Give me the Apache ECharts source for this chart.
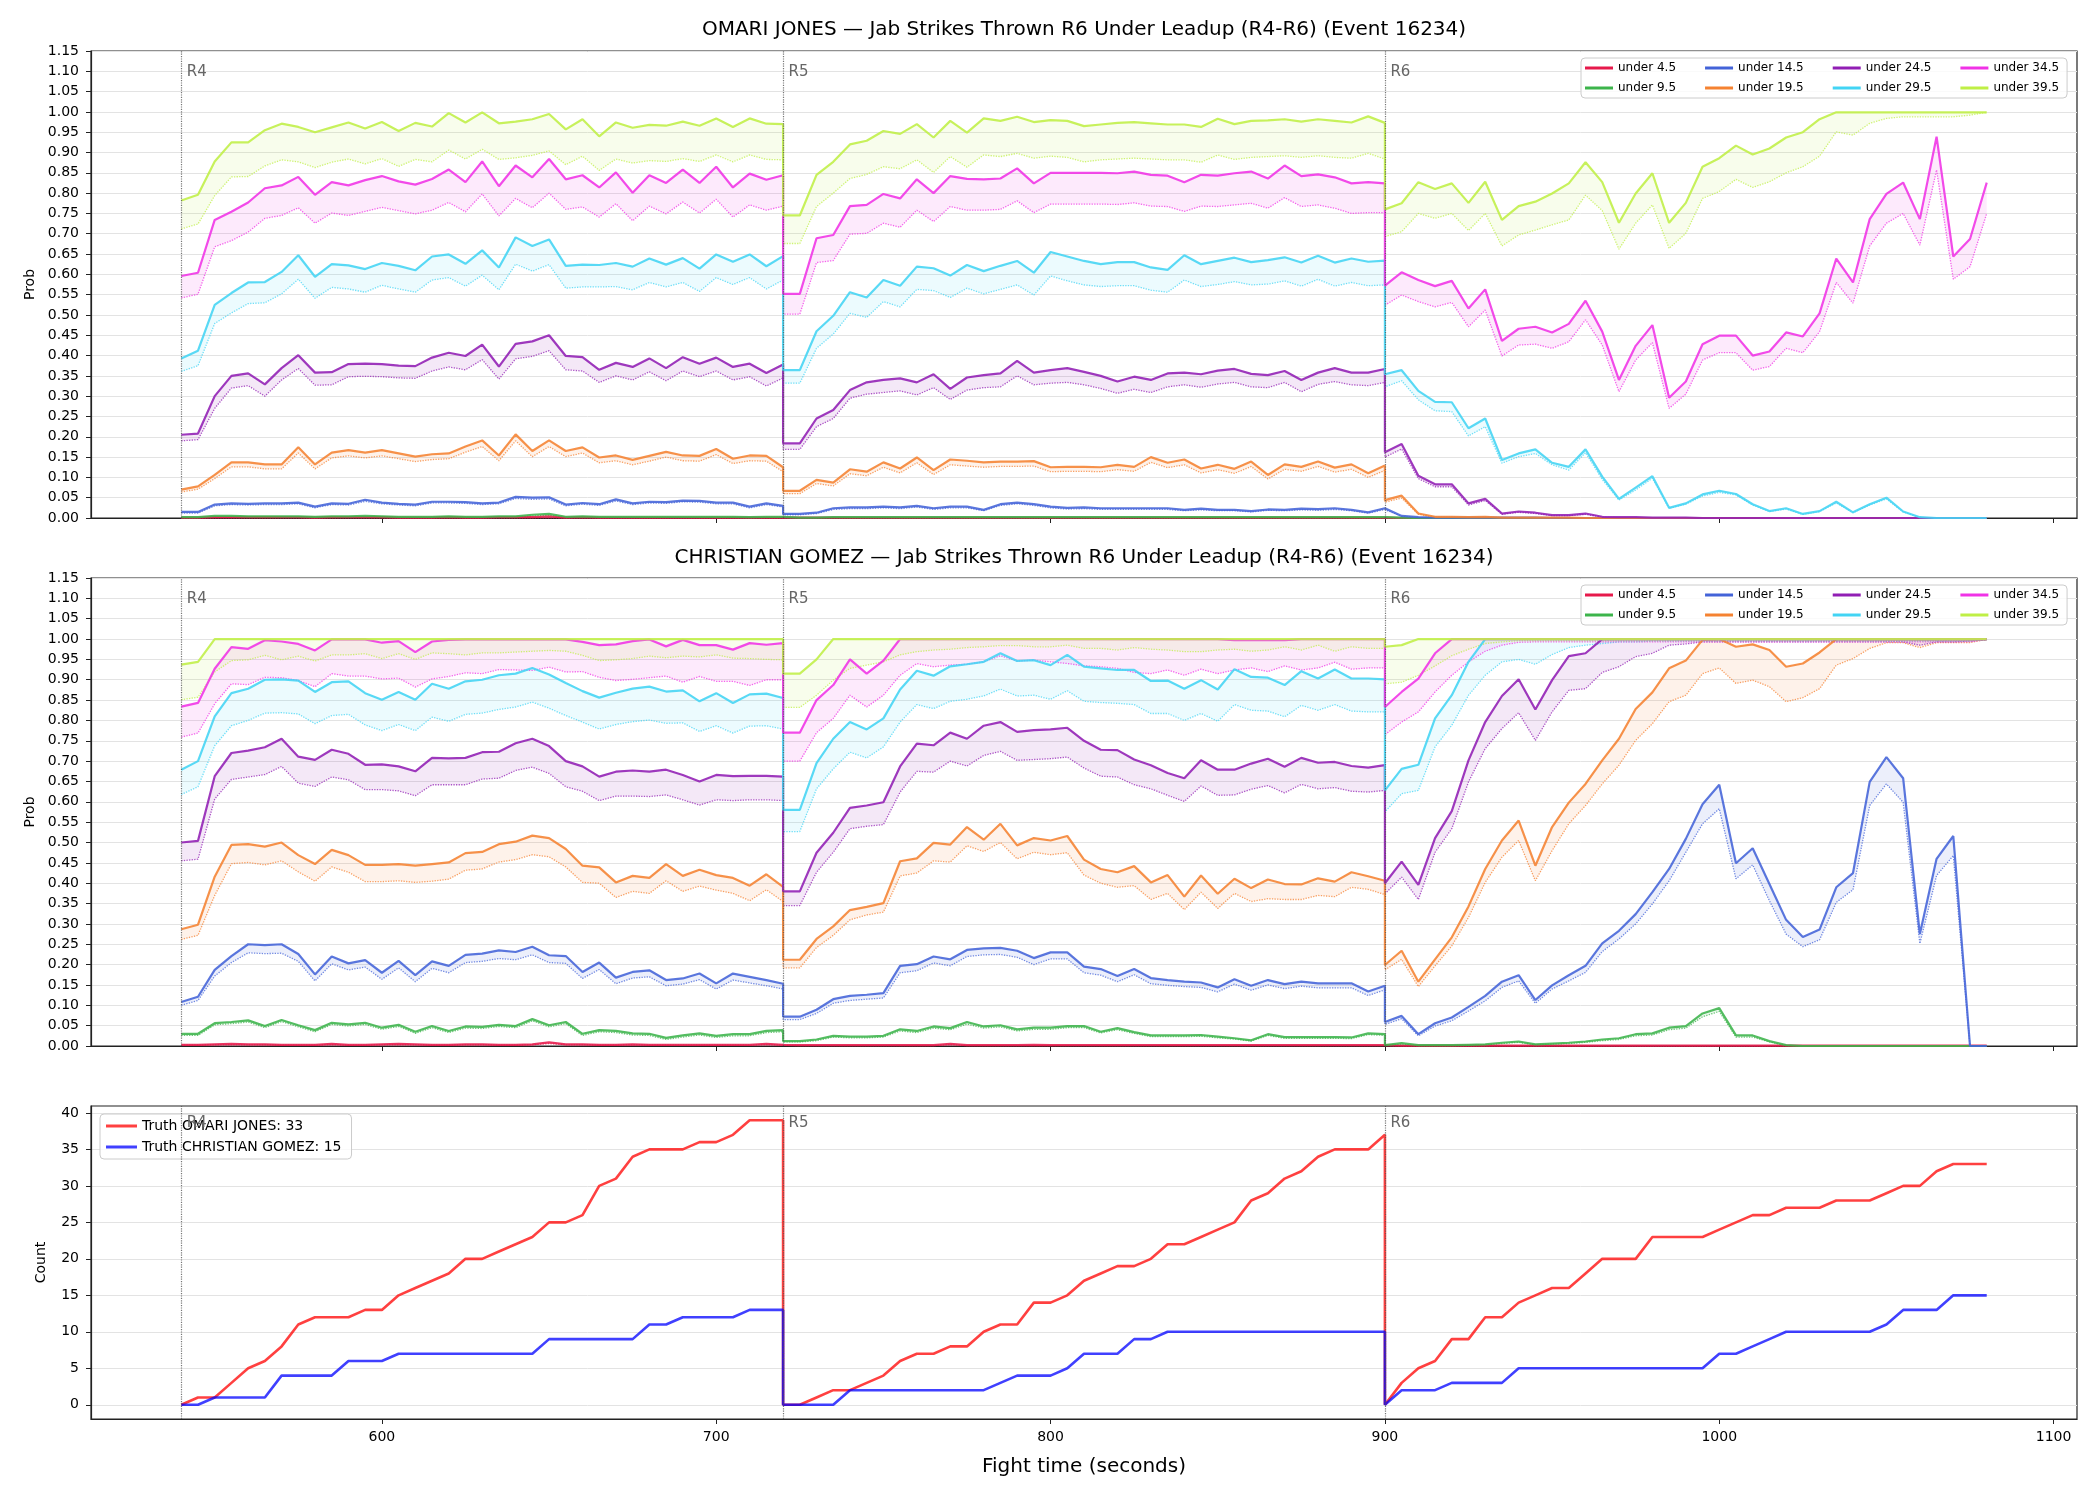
<!DOCTYPE html>
<html>
<head>
<meta charset="utf-8">
<title>Jab Strikes Thrown R6 Under Leadup</title>
<script src="https://cdn.jsdelivr.net/npm/echarts@6.0.0/dist/echarts.min.js"></script>
<style>
  html, body { margin: 0; padding: 0; background: #ffffff; }
  #main { width: 2100px; height: 1500px; }
</style>
</head>
<body>
<div id="main"></div>
<script>
// each round sampled every 5 s, 37 samples per round (R4, R5, R6)
const roundStarts = [540, 720, 900];
const roundNames = ['R4', 'R5', 'R6'];
const times = [];
roundStarts.forEach(function (s) { for (let i = 0; i <= 36; i++) times.push(s + i * 5); });

const xTicks = [600, 700, 800, 900, 1000, 1100];
const countTicks = [0, 5, 10, 15, 20, 25, 30, 35, 40];
const thresholds = ['4.5', '9.5', '14.5', '19.5', '24.5', '29.5', '34.5', '39.5'];
const lineColors = ['#e6194b', '#3cb44b', '#4363d8', '#f58231', '#911eb4', '#42d4f4', '#f032e6', '#bfef45'];

// ---------------- OMARI JONES (solid = prob, lo = dotted lower line) ----------------
const om4 = [
  0.001,0.001,0.002,0.002,0.002,0.002,0.002,0.002,0.001,0.002,
  0.002,0.002,0.002,0.001,0.001,0.001,0.002,0.001,0.001,0.002,
  0.002,0.002,0.004,0.001,0.002,0.001,0.001,0.001,0.001,0.001,
  0.001,0.001,0.001,0.001,0.001,0.001,0.001,
  0.001,0.001,0.001,0.001,0.001,0.001,0.001,0.001,0.001,0.001,
  0.001,0.001,0.001,0.001,0.001,0.001,0.001,0.001,0.001,0.001,
  0.001,0.001,0.001,0.001,0.001,0.001,0.001,0.001,0.001,0.001,
  0.001,0.001,0.001,0.001,0.001,0.001,0.001,
  0,0,0,0,0,0,0,0,0,0, 0,0,0,0,0,0,0,0,0,0, 0,0,0,0,0,0,0,0,0,0, 0,0,0,0,0,0,0
];
const om4lo = [
  0,0,0,0,0,0,0,0,0,0, 0,0,0,0,0,0,0,0,0,0, 0,0,0,0,0,0,0,0,0,0, 0,0,0,0,0,0,0,
  0,0,0,0,0,0,0,0,0,0, 0,0,0,0,0,0,0,0,0,0, 0,0,0,0,0,0,0,0,0,0, 0,0,0,0,0,0,0,
  0,0,0,0,0,0,0,0,0,0, 0,0,0,0,0,0,0,0,0,0, 0,0,0,0,0,0,0,0,0,0, 0,0,0,0,0,0,0
];
const om9 = [
  0.002,0.002,0.005,0.005,0.004,0.004,0.004,0.004,0.003,0.004,
  0.004,0.005,0.004,0.003,0.003,0.003,0.004,0.003,0.003,0.004,
  0.004,0.008,0.010,0.003,0.004,0.003,0.003,0.003,0.003,0.003,
  0.003,0.003,0.003,0.003,0.002,0.003,0.003,
  0.001,0.001,0.001,0.002,0.002,0.002,0.002,0.002,0.002,0.002,
  0.002,0.002,0.002,0.002,0.002,0.002,0.002,0.002,0.002,0.002,
  0.002,0.002,0.002,0.002,0.002,0.002,0.002,0.002,0.002,0.002,
  0.002,0.002,0.002,0.002,0.002,0.002,0.002,
  0.001,0.001,0,0,0,0,0,0,0,0, 0,0,0,0,0,0,0,0,0,0, 0,0,0,0,0,0,0,0,0,0, 0,0,0,0,0,0,0
];
const om9lo = [
  0.001,0.001,0.003,0.003,0.003,0.003,0.003,0.003,0.002,0.003,
  0.003,0.003,0.003,0.002,0.002,0.002,0.003,0.002,0.002,0.003,
  0.003,0.005,0.007,0.002,0.003,0.002,0.002,0.002,0.002,0.002,
  0.002,0.002,0.002,0.002,0.001,0.002,0.002,
  0.001,0.001,0.001,0.001,0.001,0.001,0.001,0.001,0.001,0.001,
  0.001,0.001,0.001,0.001,0.001,0.001,0.001,0.001,0.001,0.001,
  0.001,0.001,0.001,0.001,0.001,0.001,0.001,0.001,0.001,0.001,
  0.001,0.001,0.001,0.001,0.001,0.001,0.001,
  0,0,0,0,0,0,0,0,0,0, 0,0,0,0,0,0,0,0,0,0, 0,0,0,0,0,0,0,0,0,0, 0,0,0,0,0,0,0
];
const om14 = [
  0.015,0.015,0.033,0.036,0.035,0.036,0.036,0.038,0.028,0.036,
  0.035,0.045,0.038,0.035,0.033,0.040,0.040,0.039,0.036,0.038,
  0.052,0.050,0.051,0.033,0.037,0.034,0.046,0.036,0.040,0.039,
  0.043,0.042,0.038,0.038,0.028,0.036,0.030,
  0.010,0.010,0.013,0.024,0.026,0.026,0.028,0.026,0.030,0.024,
  0.028,0.028,0.020,0.034,0.038,0.034,0.028,0.025,0.026,0.024,
  0.024,0.024,0.024,0.024,0.020,0.023,0.020,0.020,0.017,0.021,
  0.020,0.023,0.022,0.024,0.020,0.014,0.024,
  0.020,0.005,0.002,0.001,0.001,0.001,0.001,0.001,0.001,0.001,
  0,0,0,0,0,0,0,0,0,0, 0,0,0,0,0,0,0,0,0,0, 0,0,0,0,0,0,0
];
const om14lo = [
  0.012,0.012,0.030,0.033,0.032,0.033,0.033,0.035,0.025,0.033,
  0.032,0.041,0.035,0.032,0.030,0.037,0.037,0.036,0.033,0.035,
  0.048,0.046,0.047,0.030,0.034,0.031,0.042,0.033,0.037,0.036,
  0.040,0.039,0.035,0.035,0.025,0.033,0.027,
  0.008,0.008,0.011,0.021,0.023,0.023,0.025,0.023,0.027,0.021,
  0.025,0.025,0.018,0.031,0.035,0.031,0.025,0.022,0.023,0.021,
  0.021,0.021,0.021,0.021,0.018,0.020,0.018,0.018,0.015,0.019,
  0.018,0.020,0.019,0.021,0.018,0.012,0.021,
  0.017,0.004,0.001,0,0,0,0,0,0,0, 0,0,0,0,0,0,0,0,0,0, 0,0,0,0,0,0,0,0,0,0, 0,0,0,0,0,0,0
];
const om19 = [
  0.070,0.078,0.106,0.137,0.137,0.132,0.132,0.174,0.132,0.161,
  0.167,0.161,0.167,0.159,0.151,0.157,0.159,0.176,0.191,0.154,
  0.206,0.165,0.191,0.165,0.174,0.149,0.154,0.143,0.153,0.163,
  0.154,0.153,0.170,0.146,0.154,0.153,0.125,
  0.067,0.067,0.094,0.087,0.120,0.114,0.137,0.122,0.149,0.118,
  0.144,0.141,0.137,0.139,0.139,0.140,0.125,0.126,0.126,0.125,
  0.131,0.126,0.150,0.136,0.144,0.122,0.131,0.121,0.139,0.106,
  0.132,0.126,0.139,0.124,0.132,0.110,0.129,
  0.044,0.055,0.011,0.003,0.003,0.002,0.003,0.001,0.001,0.001,
  0.001,0.001,0,0,0,0,0,0,0,0, 0,0,0,0,0,0,0,0,0,0, 0,0,0,0,0,0,0
];
const om19lo = [
  0.064,0.071,0.097,0.126,0.126,0.121,0.121,0.160,0.121,0.148,
  0.153,0.148,0.153,0.146,0.139,0.144,0.146,0.162,0.176,0.141,
  0.190,0.151,0.176,0.151,0.160,0.136,0.141,0.131,0.140,0.150,
  0.141,0.140,0.156,0.134,0.141,0.140,0.114,
  0.060,0.060,0.085,0.079,0.109,0.104,0.125,0.111,0.136,0.107,
  0.131,0.128,0.125,0.127,0.127,0.128,0.114,0.115,0.115,0.114,
  0.119,0.115,0.137,0.124,0.131,0.111,0.119,0.110,0.127,0.096,
  0.120,0.115,0.127,0.113,0.120,0.100,0.117,
  0.039,0.049,0.009,0.002,0.002,0.001,0.002,0.001,0,0,
  0,0,0,0,0,0,0,0,0,0, 0,0,0,0,0,0,0,0,0,0, 0,0,0,0,0,0,0
];
const om24 = [
  0.205,0.208,0.300,0.350,0.356,0.329,0.369,0.401,0.358,0.359,
  0.379,0.380,0.379,0.375,0.374,0.395,0.407,0.399,0.427,0.373,
  0.429,0.435,0.450,0.399,0.396,0.365,0.382,0.372,0.393,0.369,
  0.396,0.380,0.395,0.372,0.380,0.357,0.378,
  0.184,0.184,0.245,0.266,0.315,0.334,0.340,0.344,0.334,0.354,
  0.318,0.346,0.352,0.356,0.387,0.358,0.364,0.369,0.360,0.350,
  0.336,0.348,0.340,0.356,0.358,0.354,0.363,0.367,0.355,0.352,
  0.362,0.340,0.358,0.369,0.358,0.358,0.367,
  0.162,0.182,0.104,0.083,0.083,0.036,0.047,0.011,0.016,0.013,
  0.007,0.007,0.011,0.003,0.002,0.002,0.001,0.001,0.001,0,
  0,0,0,0,0,0,0,0,0,0, 0,0,0,0,0,0,0
];
const om24lo = [
  0.190,0.193,0.270,0.320,0.326,0.300,0.340,0.368,0.327,0.328,
  0.348,0.349,0.348,0.345,0.344,0.362,0.372,0.365,0.390,0.342,
  0.392,0.398,0.412,0.365,0.362,0.334,0.350,0.340,0.360,0.338,
  0.362,0.348,0.362,0.340,0.348,0.325,0.345,
  0.169,0.169,0.225,0.245,0.295,0.305,0.309,0.313,0.303,0.321,
  0.292,0.315,0.321,0.323,0.350,0.328,0.332,0.334,0.328,0.319,
  0.307,0.317,0.309,0.323,0.328,0.322,0.330,0.334,0.323,0.321,
  0.334,0.311,0.329,0.336,0.328,0.326,0.334,
  0.150,0.170,0.097,0.077,0.077,0.032,0.043,0.009,0.014,0.011,
  0.006,0.006,0.009,0.002,0.001,0.001,0,0,0,0,
  0,0,0,0,0,0,0,0,0,0, 0,0,0,0,0,0,0
];
const om29 = [
  0.393,0.412,0.525,0.554,0.580,0.581,0.606,0.647,0.594,0.625,
  0.622,0.613,0.628,0.621,0.610,0.644,0.649,0.626,0.659,0.617,
  0.691,0.670,0.686,0.621,0.624,0.623,0.628,0.619,0.639,0.624,
  0.640,0.614,0.649,0.631,0.649,0.620,0.645,
  0.364,0.364,0.460,0.498,0.556,0.543,0.586,0.572,0.619,0.615,
  0.597,0.623,0.608,0.621,0.633,0.604,0.655,0.644,0.633,0.625,
  0.630,0.630,0.617,0.611,0.647,0.625,0.633,0.641,0.630,0.635,
  0.642,0.629,0.646,0.629,0.639,0.631,0.634,
  0.354,0.364,0.313,0.286,0.285,0.221,0.245,0.143,0.159,0.169,
  0.136,0.126,0.169,0.102,0.047,0.075,0.103,0.025,0.036,0.058,
  0.067,0.059,0.034,0.017,0.024,0.010,0.017,0.040,0.014,0.034,
  0.050,0.016,0.002,0,0,0,0
];
const om29lo = [
  0.361,0.375,0.479,0.505,0.528,0.530,0.552,0.588,0.541,0.568,
  0.564,0.556,0.573,0.564,0.556,0.586,0.592,0.571,0.598,0.562,
  0.625,0.608,0.624,0.566,0.569,0.569,0.570,0.562,0.580,0.569,
  0.580,0.558,0.592,0.575,0.592,0.564,0.586,
  0.332,0.332,0.418,0.453,0.504,0.494,0.533,0.520,0.563,0.560,
  0.543,0.566,0.552,0.563,0.574,0.549,0.596,0.584,0.574,0.570,
  0.572,0.572,0.561,0.556,0.586,0.570,0.575,0.582,0.574,0.576,
  0.584,0.571,0.588,0.571,0.580,0.572,0.574,
  0.323,0.338,0.291,0.264,0.262,0.202,0.225,0.135,0.151,0.159,
  0.131,0.118,0.161,0.095,0.044,0.069,0.098,0.024,0.034,0.054,
  0.063,0.057,0.032,0.016,0.022,0.009,0.016,0.037,0.013,0.032,
  0.047,0.015,0.001,0,0,0,0
];
const om34 = [
  0.596,0.604,0.734,0.754,0.777,0.812,0.819,0.840,0.796,0.827,
  0.819,0.832,0.842,0.829,0.821,0.835,0.858,0.827,0.878,0.817,
  0.868,0.839,0.884,0.834,0.844,0.814,0.851,0.801,0.844,0.825,
  0.858,0.825,0.865,0.814,0.848,0.833,0.844,
  0.552,0.552,0.689,0.697,0.768,0.771,0.798,0.787,0.834,0.800,
  0.842,0.835,0.834,0.836,0.861,0.824,0.850,0.850,0.850,0.850,
  0.849,0.853,0.845,0.843,0.827,0.845,0.843,0.849,0.853,0.836,
  0.868,0.842,0.846,0.839,0.824,0.827,0.824,
  0.572,0.605,0.586,0.571,0.584,0.516,0.563,0.436,0.466,0.471,
  0.457,0.478,0.535,0.459,0.340,0.424,0.475,0.296,0.336,0.428,
  0.449,0.449,0.400,0.410,0.457,0.447,0.504,0.639,0.580,0.736,
  0.798,0.826,0.736,0.939,0.644,0.687,0.826
];
const om34lo = [
  0.542,0.551,0.668,0.683,0.704,0.738,0.745,0.764,0.726,0.751,
  0.745,0.755,0.765,0.757,0.749,0.758,0.777,0.754,0.798,0.744,
  0.787,0.764,0.800,0.760,0.766,0.741,0.774,0.732,0.768,0.749,
  0.778,0.751,0.785,0.741,0.771,0.758,0.768,
  0.502,0.502,0.629,0.634,0.699,0.701,0.726,0.716,0.758,0.730,
  0.767,0.758,0.758,0.760,0.781,0.752,0.773,0.773,0.773,0.773,
  0.772,0.776,0.768,0.767,0.755,0.768,0.767,0.771,0.775,0.763,
  0.789,0.767,0.771,0.763,0.750,0.752,0.752,
  0.524,0.549,0.533,0.520,0.531,0.471,0.512,0.399,0.426,0.428,
  0.418,0.434,0.488,0.426,0.311,0.389,0.432,0.270,0.305,0.389,
  0.407,0.407,0.364,0.373,0.418,0.407,0.459,0.580,0.529,0.670,
  0.726,0.750,0.672,0.857,0.588,0.619,0.750
];
const om39 = [
  0.782,0.796,0.878,0.925,0.925,0.955,0.971,0.963,0.950,0.962,
  0.974,0.959,0.975,0.953,0.973,0.964,0.997,0.974,0.999,0.972,
  0.976,0.982,0.995,0.957,0.982,0.940,0.974,0.961,0.968,0.966,
  0.976,0.966,0.984,0.963,0.984,0.971,0.970,
  0.745,0.745,0.845,0.877,0.920,0.929,0.953,0.946,0.970,0.937,
  0.978,0.949,0.984,0.978,0.988,0.975,0.980,0.978,0.965,0.969,
  0.973,0.975,0.972,0.969,0.969,0.963,0.983,0.970,0.978,0.979,
  0.982,0.976,0.982,0.978,0.974,0.989,0.973,
  0.760,0.775,0.827,0.810,0.824,0.776,0.828,0.734,0.768,0.779,
  0.799,0.824,0.876,0.827,0.727,0.799,0.849,0.727,0.776,0.865,
  0.886,0.917,0.895,0.910,0.937,0.950,0.982,0.999,0.999,0.999,
  0.999,0.999,0.999,0.999,0.999,0.999,0.999
];
const om39lo = [
  0.712,0.724,0.794,0.840,0.841,0.867,0.882,0.877,0.863,0.876,
  0.884,0.872,0.885,0.866,0.883,0.877,0.906,0.884,0.908,0.883,
  0.887,0.893,0.904,0.870,0.891,0.856,0.884,0.874,0.880,0.878,
  0.885,0.878,0.894,0.877,0.894,0.883,0.882,
  0.676,0.676,0.767,0.800,0.836,0.846,0.865,0.860,0.882,0.851,
  0.890,0.864,0.894,0.890,0.898,0.886,0.891,0.888,0.877,0.882,
  0.884,0.886,0.884,0.882,0.882,0.876,0.894,0.883,0.888,0.890,
  0.892,0.888,0.892,0.888,0.886,0.898,0.884,
  0.693,0.705,0.750,0.738,0.750,0.708,0.750,0.670,0.697,0.709,
  0.722,0.734,0.795,0.757,0.662,0.726,0.771,0.664,0.701,0.787,
  0.804,0.834,0.814,0.828,0.850,0.865,0.891,0.951,0.943,0.972,
  0.984,0.988,0.988,0.988,0.988,0.992,0.999
];

// ---------------- CHRISTIAN GOMEZ ----------------
const cg4 = [
  0.003,0.003,0.004,0.005,0.004,0.004,0.003,0.003,0.003,0.005,
  0.003,0.003,0.004,0.005,0.004,0.003,0.003,0.004,0.004,0.003,
  0.003,0.004,0.009,0.004,0.004,0.003,0.003,0.004,0.003,0.003,
  0.003,0.003,0.003,0.003,0.003,0.005,0.003,
  0.002,0.002,0.002,0.002,0.002,0.002,0.002,0.002,0.002,0.002,
  0.005,0.002,0.002,0.002,0.002,0.003,0.002,0.002,0.002,0.002,
  0.002,0.002,0.002,0.002,0.002,0.002,0.002,0.002,0.002,0.002,
  0.002,0.002,0.002,0.002,0.002,0.002,0.002,
  0.001,0.001,0.001,0.001,0.001,0.001,0.001,0.001,0.001,0.001,
  0.001,0.001,0.001,0.001,0.001,0.001,0.001,0.001,0.001,0.001,
  0.001,0.001,0.001,0.001,0.001,0.001,0.001,0.001,0.001,0.001,
  0.001,0.001,0.001,0.001,0.001,0.001,0.001
];
const cg4lo = [
  0.002,0.002,0.003,0.003,0.003,0.003,0.002,0.002,0.002,0.003,
  0.002,0.002,0.003,0.003,0.003,0.002,0.002,0.003,0.003,0.002,
  0.002,0.003,0.006,0.003,0.003,0.002,0.002,0.003,0.002,0.002,
  0.002,0.002,0.002,0.002,0.002,0.003,0.002,
  0.001,0.001,0.001,0.001,0.001,0.001,0.001,0.001,0.001,0.001,
  0.003,0.001,0.001,0.001,0.001,0.001,0.001,0.001,0.001,0.001,
  0.001,0.001,0.001,0.001,0.001,0.001,0.001,0.001,0.001,0.001,
  0.001,0.001,0.001,0.001,0.001,0.001,0.001,
  0,0,0,0,0,0,0,0,0,0, 0,0,0,0,0,0,0,0,0,0, 0,0,0,0,0,0,0,0,0,0, 0,0,0,0,0,0,0
];
const cg9 = [
  0.030,0.030,0.056,0.059,0.063,0.049,0.064,0.051,0.039,0.057,
  0.053,0.057,0.045,0.052,0.035,0.049,0.037,0.048,0.047,0.052,
  0.049,0.066,0.051,0.059,0.030,0.039,0.037,0.031,0.030,0.020,
  0.026,0.031,0.025,0.029,0.029,0.037,0.039,
  0.012,0.012,0.016,0.025,0.023,0.023,0.025,0.041,0.037,0.048,
  0.044,0.059,0.048,0.051,0.041,0.045,0.045,0.049,0.049,0.035,
  0.044,0.034,0.026,0.026,0.026,0.027,0.023,0.019,0.014,0.029,
  0.022,0.022,0.022,0.022,0.021,0.031,0.029,
  0.002,0.007,0.002,0.002,0.002,0.003,0.004,0.008,0.011,0.004,
  0.006,0.008,0.011,0.016,0.019,0.029,0.031,0.045,0.049,0.080,
  0.093,0.026,0.026,0.012,0.002,0,0,0,0,0,
  0,0,0,0,0,0,0
];
const cg9lo = [
  0.026,0.026,0.052,0.055,0.059,0.045,0.060,0.047,0.035,0.053,
  0.049,0.053,0.041,0.048,0.031,0.045,0.033,0.044,0.043,0.048,
  0.045,0.062,0.047,0.055,0.026,0.035,0.033,0.027,0.026,0.016,
  0.022,0.027,0.021,0.025,0.025,0.033,0.035,
  0.010,0.010,0.013,0.022,0.020,0.020,0.022,0.037,0.033,0.044,
  0.040,0.054,0.044,0.047,0.037,0.041,0.041,0.045,0.045,0.032,
  0.040,0.031,0.023,0.023,0.023,0.024,0.020,0.017,0.012,0.026,
  0.019,0.019,0.019,0.019,0.018,0.028,0.026,
  0.001,0.005,0.001,0.001,0.001,0.002,0.003,0.006,0.009,0.003,
  0.005,0.006,0.009,0.013,0.016,0.025,0.027,0.040,0.044,0.072,
  0.085,0.022,0.022,0.010,0.001,0,0,0,0,0,
  0,0,0,0,0,0,0
];
const cg14 = [
  0.108,0.121,0.187,0.221,0.250,0.248,0.250,0.226,0.176,0.220,
  0.203,0.211,0.180,0.209,0.174,0.208,0.197,0.224,0.227,0.235,
  0.231,0.244,0.223,0.221,0.182,0.205,0.168,0.182,0.186,0.162,
  0.166,0.178,0.154,0.178,0.170,0.162,0.153,
  0.072,0.072,0.089,0.115,0.123,0.126,0.130,0.197,0.201,0.220,
  0.213,0.236,0.240,0.241,0.234,0.216,0.230,0.230,0.195,0.189,
  0.172,0.189,0.167,0.162,0.158,0.156,0.144,0.164,0.148,0.162,
  0.152,0.158,0.154,0.154,0.154,0.134,0.148,
  0.059,0.074,0.029,0.056,0.070,0.096,0.123,0.158,0.174,0.113,
  0.149,0.174,0.197,0.252,0.283,0.324,0.378,0.435,0.509,0.594,
  0.642,0.449,0.486,0.398,0.310,0.268,0.286,0.390,0.425,0.649,
  0.710,0.658,0.275,0.460,0.516,0,0
];
const cg14lo = [
  0.100,0.112,0.172,0.205,0.229,0.227,0.228,0.208,0.160,0.202,
  0.187,0.194,0.164,0.192,0.158,0.191,0.180,0.205,0.208,0.215,
  0.212,0.224,0.205,0.203,0.166,0.188,0.153,0.167,0.170,0.148,
  0.152,0.163,0.140,0.162,0.155,0.148,0.140,
  0.065,0.065,0.080,0.105,0.112,0.115,0.118,0.180,0.185,0.204,
  0.197,0.220,0.224,0.225,0.218,0.200,0.214,0.214,0.180,0.174,
  0.158,0.175,0.153,0.149,0.146,0.144,0.133,0.152,0.137,0.150,
  0.141,0.147,0.143,0.143,0.143,0.124,0.138,
  0.053,0.067,0.025,0.049,0.062,0.086,0.111,0.144,0.160,0.105,
  0.140,0.160,0.181,0.232,0.263,0.300,0.349,0.406,0.476,0.546,
  0.583,0.411,0.445,0.357,0.275,0.244,0.261,0.353,0.384,0.591,
  0.644,0.599,0.252,0.419,0.468,0,0
];
const cg19 = [
  0.287,0.298,0.416,0.494,0.496,0.490,0.500,0.469,0.447,0.482,
  0.469,0.445,0.445,0.447,0.443,0.447,0.451,0.474,0.477,0.496,
  0.502,0.517,0.511,0.484,0.443,0.439,0.402,0.418,0.413,0.447,
  0.418,0.433,0.420,0.413,0.394,0.422,0.391,
  0.212,0.212,0.263,0.294,0.334,0.342,0.351,0.454,0.461,0.499,
  0.495,0.538,0.507,0.546,0.493,0.511,0.505,0.516,0.458,0.435,
  0.427,0.442,0.402,0.420,0.367,0.419,0.374,0.411,0.388,0.409,
  0.398,0.397,0.412,0.404,0.427,0.417,0.406,
  0.199,0.234,0.158,0.213,0.267,0.343,0.435,0.505,0.554,0.443,
  0.538,0.598,0.644,0.702,0.755,0.828,0.869,0.928,0.947,0.998,
  1,0.981,0.987,0.973,0.932,0.940,0.967,1,1,1,
  1,1,1,1,1,1,1
];
const cg19lo = [
  0.262,0.272,0.370,0.448,0.451,0.445,0.455,0.428,0.405,0.440,
  0.427,0.404,0.404,0.406,0.402,0.405,0.410,0.432,0.435,0.452,
  0.458,0.470,0.465,0.440,0.402,0.400,0.365,0.380,0.375,0.406,
  0.380,0.393,0.383,0.375,0.357,0.384,0.355,
  0.192,0.192,0.242,0.272,0.310,0.322,0.329,0.418,0.425,0.455,
  0.452,0.492,0.478,0.500,0.460,0.476,0.470,0.475,0.420,0.400,
  0.390,0.394,0.360,0.375,0.335,0.378,0.338,0.375,0.355,0.362,
  0.360,0.360,0.370,0.367,0.390,0.385,0.372,
  0.187,0.213,0.146,0.197,0.246,0.316,0.402,0.464,0.505,0.406,
  0.480,0.546,0.591,0.644,0.690,0.751,0.792,0.846,0.862,0.915,
  0.929,0.891,0.899,0.883,0.846,0.856,0.878,0.936,0.952,0.977,
  0.991,0.991,0.979,0.991,0.991,0.991,0.999
];
const cg24 = [
  0.500,0.504,0.663,0.720,0.726,0.734,0.755,0.711,0.703,0.728,
  0.718,0.691,0.692,0.687,0.675,0.708,0.707,0.708,0.722,0.723,
  0.744,0.755,0.737,0.700,0.687,0.662,0.674,0.677,0.674,0.679,
  0.666,0.650,0.666,0.663,0.664,0.664,0.662,
  0.380,0.380,0.475,0.524,0.585,0.591,0.599,0.687,0.743,0.739,
  0.770,0.755,0.787,0.796,0.772,0.776,0.778,0.782,0.750,0.728,
  0.727,0.704,0.690,0.671,0.658,0.702,0.679,0.679,0.694,0.706,
  0.686,0.708,0.696,0.698,0.688,0.684,0.690,
  0.400,0.453,0.396,0.511,0.577,0.702,0.796,0.860,0.901,0.827,
  0.899,0.958,0.965,1,1,1,1,1,1,1,
  1,1,1,1,1,1,1,1,1,1, 1,1,1,1,1,1,1
];
const cg24lo = [
  0.455,0.459,0.607,0.655,0.661,0.667,0.687,0.646,0.638,0.661,
  0.654,0.630,0.630,0.627,0.615,0.642,0.642,0.642,0.656,0.658,
  0.677,0.685,0.670,0.637,0.626,0.603,0.614,0.614,0.613,0.617,
  0.605,0.592,0.605,0.603,0.605,0.605,0.603,
  0.345,0.345,0.427,0.476,0.534,0.540,0.544,0.624,0.675,0.673,
  0.700,0.688,0.714,0.724,0.702,0.704,0.706,0.710,0.683,0.663,
  0.661,0.642,0.632,0.616,0.601,0.639,0.616,0.617,0.631,0.640,
  0.622,0.643,0.632,0.635,0.626,0.624,0.628,
  0.374,0.415,0.360,0.476,0.534,0.649,0.731,0.780,0.819,0.751,
  0.821,0.874,0.878,0.918,0.932,0.957,0.965,0.985,0.988,0.993,
  0.993,0.993,0.993,0.993,0.993,0.993,0.993,0.993,0.993,0.993,
  0.993,0.993,0.985,0.993,0.993,0.995,0.999
];
const cg29 = [
  0.679,0.700,0.810,0.867,0.878,0.900,0.901,0.898,0.870,0.894,
  0.896,0.867,0.851,0.870,0.851,0.890,0.878,0.896,0.900,0.911,
  0.915,0.929,0.913,0.892,0.872,0.856,0.868,0.878,0.883,0.871,
  0.874,0.847,0.867,0.843,0.864,0.866,0.855,
  0.580,0.580,0.695,0.755,0.796,0.778,0.805,0.876,0.922,0.910,
  0.933,0.938,0.944,0.965,0.946,0.948,0.936,0.961,0.932,0.928,
  0.924,0.924,0.897,0.898,0.878,0.899,0.876,0.926,0.907,0.905,
  0.887,0.921,0.903,0.925,0.903,0.903,0.901,
  0.628,0.681,0.691,0.805,0.862,0.944,1,1,1,1,
  1,1,1,1,1,1,1,1,1,1, 1,1,1,1,1,1,1,1,1,1, 1,1,1,1,1,1,1
];
const cg29lo = [
  0.618,0.637,0.738,0.787,0.800,0.818,0.819,0.816,0.792,0.812,
  0.815,0.789,0.775,0.790,0.775,0.808,0.798,0.815,0.818,0.827,
  0.833,0.845,0.830,0.812,0.796,0.779,0.790,0.797,0.801,0.793,
  0.794,0.773,0.787,0.769,0.786,0.787,0.779,
  0.527,0.527,0.632,0.681,0.722,0.708,0.735,0.796,0.839,0.829,
  0.847,0.852,0.860,0.877,0.860,0.862,0.852,0.873,0.847,0.844,
  0.842,0.839,0.817,0.817,0.800,0.817,0.798,0.839,0.825,0.823,
  0.809,0.837,0.825,0.839,0.823,0.821,0.821,
  0.575,0.620,0.628,0.735,0.788,0.862,0.911,0.944,0.950,0.938,
  0.962,0.979,0.985,0.989,0.993,0.993,0.995,0.995,0.995,0.995,
  0.995,0.995,0.995,0.995,0.995,0.995,0.995,0.995,0.995,0.995,
  0.995,0.995,0.995,0.995,0.995,0.995,0.999
];
const cg34 = [
  0.834,0.843,0.927,0.980,0.976,0.997,0.994,0.988,0.972,0.999,
  0.999,0.999,0.991,0.995,0.968,0.994,0.998,0.999,0.999,0.999,
  0.999,0.999,0.999,0.999,0.993,0.985,0.987,0.995,0.999,0.982,
  0.998,0.985,0.985,0.974,0.990,0.986,0.990,
  0.770,0.770,0.850,0.887,0.950,0.915,0.947,1,1,1,
  1,1,1,1,1,1,1,1,1,1,
  1,1,1,1,1,1,1,0.997,0.997,0.997,
  0.997,1,1,1,1,1,1,
  0.833,0.870,0.903,0.965,1,1,1,1,1,1,
  1,1,1,1,1,1,1,1,1,1, 1,1,1,1,1,1,1,1,1,1, 1,1,1,1,1,1,1
];
const cg34lo = [
  0.759,0.769,0.841,0.890,0.888,0.906,0.905,0.898,0.883,0.915,
  0.909,0.909,0.902,0.904,0.882,0.902,0.908,0.917,0.915,0.925,
  0.924,0.923,0.931,0.919,0.920,0.906,0.898,0.901,0.905,0.909,
  0.894,0.908,0.896,0.896,0.886,0.900,0.900,
  0.700,0.700,0.770,0.805,0.862,0.833,0.862,0.911,0.940,0.932,
  0.936,0.938,0.944,0.959,0.946,0.948,0.944,0.940,0.934,0.932,
  0.928,0.918,0.915,0.924,0.911,0.926,0.915,0.924,0.929,0.920,
  0.934,0.924,0.929,0.943,0.926,0.929,0.929,
  0.765,0.796,0.821,0.870,0.911,0.944,0.970,0.985,0.992,0.993,
  0.993,0.993,0.993,0.993,0.993,0.993,0.993,0.993,0.993,0.993,
  0.993,0.993,0.993,0.993,0.993,0.993,0.993,0.993,0.993,0.993,
  0.993,0.993,0.993,0.993,0.993,0.993,0.999
];
const cg39 = [
  0.937,0.944,1,1,1,1,1,1,1,1,
  1,1,1,1,1,1,1,1,1,1, 1,1,1,1,1,1,1,1,1,1, 1,1,1,1,1,1,1,
  0.915,0.915,0.950,1,1,1,1,1,1,1,
  1,1,1,1,1,1,1,1,1,1, 1,1,1,1,1,1,1,1,1,1, 1,1,1,1,1,1,1,
  0.981,0.985,1,1,1,1,1,1,1,1,
  1,1,1,1,1,1,1,1,1,1, 1,1,1,1,1,1,1,1,1,1, 1,1,1,1,1,1,1
];
const cg39lo = [
  0.851,0.857,0.919,0.947,0.949,0.960,0.949,0.958,0.946,0.961,
  0.961,0.964,0.952,0.964,0.950,0.966,0.964,0.961,0.966,0.966,
  0.968,0.970,0.972,0.970,0.960,0.947,0.949,0.952,0.958,0.954,
  0.958,0.956,0.961,0.953,0.952,0.950,0.949,
  0.832,0.832,0.862,0.899,0.928,0.936,0.944,0.961,0.969,0.973,
  0.975,0.979,0.981,0.984,0.984,0.981,0.981,0.985,0.977,0.977,
  0.973,0.979,0.975,0.973,0.969,0.969,0.973,0.975,0.970,0.973,
  0.981,0.973,0.985,0.970,0.981,0.977,0.977,
  0.890,0.894,0.911,0.934,0.959,0.975,0.989,0.993,0.996,0.996,
  0.996,0.996,0.996,0.996,0.996,0.996,0.996,0.996,0.996,0.996,
  0.996,0.996,0.996,0.996,0.996,0.996,0.996,0.996,0.996,0.996,
  0.996,0.996,0.996,0.996,0.996,0.996,0.999
];

// ---------------- truth counts ----------------
const truthOmari = [
  0,1,1,3,5,6,8,11,12,12, 12,13,13,15,16,17,18,20,20,21, 22,23,25,25,26,30,31,34,35,35, 35,36,36,37,39,39,39,
  0,0,1,2,2,3,4,6,7,7, 8,8,10,11,11,14,14,15,17,18, 19,19,20,22,22,23,24,25,28,29, 31,32,34,35,35,35,37,
  0,3,5,6,9,9,12,12,14,15, 16,16,18,20,20,20,23,23,23,23, 24,25,26,26,27,27,27,28,28,28, 29,30,30,32,33,33,33
];
const truthGomez = [
  0,0,1,1,1,1,4,4,4,4, 6,6,6,7,7,7,7,7,7,7, 7,7,9,9,9,9,9,9,11,11, 12,12,12,12,13,13,13,
  0,0,0,0,2,2,2,2,2,2, 2,2,2,3,4,4,4,5,7,7, 7,9,9,10,10,10,10,10,10,10, 10,10,10,10,10,10,10,
  0,2,2,2,3,3,3,3,5,5, 5,5,5,5,5,5,5,5,5,5, 7,7,8,9,10,10,10,10,10,10, 11,13,13,13,15,15,15
];

const omHi = [om4, om9, om14, om19, om24, om29, om34, om39];
const omLo = [om4lo, om9lo, om14lo, om19lo, om24lo, om29lo, om34lo, om39lo];
const cgHi = [cg4, cg9, cg14, cg19, cg24, cg29, cg34, cg39];
const cgLo = [cg4lo, cg9lo, cg14lo, cg19lo, cg24lo, cg29lo, cg34lo, cg39lo];

function pairs(vals) {
  return times.map(function (t, i) { return [t, vals[i]]; });
}

function roundMarks(labelY) {
  return {
    markLine: {
      silent: true, symbol: ['none', 'none'], label: { show: false },
      lineStyle: { type: 'dotted', color: '#555555', width: 1.2, opacity: 0.8 },
      data: roundStarts.map(function (x) { return { xAxis: x }; })
    },
    markPoint: {
      silent: true, symbol: 'rect', symbolSize: 1,
      itemStyle: { color: 'rgba(0,0,0,0)' },
      label: { show: true, position: 'right', distance: 5, formatter: '{b}', color: '#666666', fontSize: 15 },
      data: roundStarts.map(function (x, i) { return { name: roundNames[i], coord: [x, labelY] }; })
    }
  };
}

function probSeries(hi, lo, g) {
  const out = [];
  thresholds.forEach(function (th, k) {
    const c = lineColors[k];
    // shaded band between the dotted lower line and the solid line
    out.push({
      type: 'custom', name: 'band ' + th, xAxisIndex: g, yAxisIndex: g, silent: true, z: 1,
      data: times.map(function (t, i) { return [t, lo[k][i], hi[k][i]]; }),
      encode: { x: 0, y: [1, 2] },
      renderItem: function (params, api) {
        if (params.dataIndex !== 0) return null;
        const pts = [];
        for (let i = 0; i < times.length; i++) pts.push(api.coord([times[i], hi[k][i]]));
        for (let i = times.length - 1; i >= 0; i--) pts.push(api.coord([times[i], lo[k][i]]));
        return { type: 'polygon', shape: { points: pts }, style: { fill: c, opacity: 0.1 } };
      }
    });
    out.push({
      type: 'line', name: 'lower ' + th, xAxisIndex: g, yAxisIndex: g, silent: true, z: 2,
      data: pairs(lo[k]), symbol: 'none', color: c,
      lineStyle: { type: 'dotted', width: 1.3, color: c, opacity: 0.75 }
    });
    const s = {
      type: 'line', name: 'under ' + th, xAxisIndex: g, yAxisIndex: g, z: 3,
      data: pairs(hi[k]), symbol: 'none', color: c,
      lineStyle: { width: 2.2, color: c, opacity: 0.88 }
    };
    if (k === 0) Object.assign(s, roundMarks(1.098));
    out.push(s);
  });
  return out;
}

const nameOmari = 'Truth OMARI JONES: ' + truthOmari[truthOmari.length - 1];
const nameGomez = 'Truth CHRISTIAN GOMEZ: ' + truthGomez[truthGomez.length - 1];

const series = probSeries(omHi, omLo, 0).concat(probSeries(cgHi, cgLo, 1));
series.push(Object.assign({
  type: 'line', name: nameOmari, xAxisIndex: 2, yAxisIndex: 2, z: 3,
  data: pairs(truthOmari), symbol: 'none', color: 'rgba(255,0,0,0.75)',
  lineStyle: { width: 2.6, color: 'rgba(255,0,0,0.75)' }
}, roundMarks(38.6)));
series.push({
  type: 'line', name: nameGomez, xAxisIndex: 2, yAxisIndex: 2, z: 3,
  data: pairs(truthGomez), symbol: 'none', color: 'rgba(0,0,255,0.75)',
  lineStyle: { width: 2.6, color: 'rgba(0,0,255,0.75)' }
});

const gridBox = { show: true, borderColor: '#222222', borderWidth: 1.2, backgroundColor: 'rgba(0,0,0,0)', left: 91, right: 23, outerBoundsMode: 'none' };

function xAxisFor(g) {
  return {
    gridIndex: g, type: 'value', min: 513, max: 1107,
    axisLine: { show: true, onZero: false, lineStyle: { color: '#222222', width: 1.2 } },
    axisTick: { show: true, length: 5, customValues: xTicks, lineStyle: { color: '#222222' } },
    axisLabel: {
      show: g === 2, customValues: xTicks, fontSize: 14, color: '#000000', margin: 11,
      formatter: function (v) { return String(v); }
    },
    splitLine: { show: false },
    name: g === 2 ? 'Fight time (seconds)' : '',
    nameLocation: 'middle', nameGap: 38,
    nameTextStyle: { fontSize: 20, color: '#000000' }
  };
}

function probYAxis(g) {
  return {
    gridIndex: g, type: 'value', min: 0, max: 1.15, interval: 0.05,
    axisLine: { show: true, lineStyle: { color: '#222222', width: 1.2 } },
    axisTick: { show: true, length: 5, lineStyle: { color: '#222222' } },
    axisLabel: { fontSize: 14, color: '#000000', margin: 12, formatter: function (v) { return v.toFixed(2); } },
    splitLine: { show: true, lineStyle: { color: '#e3e3e3', width: 1 } },
    name: 'Prob', nameLocation: 'middle', nameGap: 53,
    nameTextStyle: { fontSize: 14, color: '#000000' }
  };
}

const legendCommon = {
  orient: 'horizontal', icon: 'rect', itemWidth: 28, itemHeight: 3, itemGap: 29,
  selectedMode: false, textStyle: { fontSize: 12, color: '#000000' }
};

function probLegends(top) {
  return [
    Object.assign({}, legendCommon, {
      data: ['under 4.5', 'under 14.5', 'under 24.5', 'under 34.5'],
      left: 1581, top: top, padding: [4, 8, 24, 4],
      backgroundColor: 'rgba(255,255,255,0.8)', borderColor: '#cccccc', borderWidth: 1, borderRadius: 4
    }),
    Object.assign({}, legendCommon, {
      data: ['under 9.5', 'under 19.5', 'under 29.5', 'under 39.5'],
      left: 1585, top: top + 24, padding: 0, z: 6
    })
  ];
}

const chart = echarts.init(document.getElementById('main'), null, { renderer: 'canvas' });

chart.setOption({
  backgroundColor: '#ffffff',
  animation: false,
  textStyle: { fontFamily: 'DejaVu Sans' },
  title: [
    {
      text: 'OMARI JONES \u2014 Jab Strikes Thrown R6 Under Leadup (R4-R6) (Event 16234)',
      left: 1084, top: 20, textAlign: 'center', padding: 0,
      textStyle: { fontSize: 20, fontWeight: 'normal', color: '#000000' }
    },
    {
      text: 'CHRISTIAN GOMEZ \u2014 Jab Strikes Thrown R6 Under Leadup (R4-R6) (Event 16234)',
      left: 1084, top: 548, textAlign: 'center', padding: 0,
      textStyle: { fontSize: 20, fontWeight: 'normal', color: '#000000' }
    }
  ],
  legend: probLegends(58).concat(probLegends(585)).concat([{
    data: [nameOmari, nameGomez], orient: 'vertical', left: 100, top: 1114,
    icon: 'rect', itemWidth: 31, itemHeight: 3, itemGap: 7, selectedMode: false,
    padding: [5, 10, 5, 6], textStyle: { fontSize: 14, color: '#000000' },
    backgroundColor: 'rgba(255,255,255,0.8)', borderColor: '#cccccc', borderWidth: 1, borderRadius: 4
  }]),
  grid: [
    Object.assign({}, gridBox, { top: 51, height: 467 }),
    Object.assign({}, gridBox, { top: 578, height: 468 }),
    Object.assign({}, gridBox, { top: 1106, height: 313 })
  ],
  xAxis: [xAxisFor(0), xAxisFor(1), xAxisFor(2)],
  yAxis: [
    probYAxis(0),
    probYAxis(1),
    {
      gridIndex: 2, type: 'value', min: -1.95, max: 40.95,
      axisLine: { show: true, lineStyle: { color: '#222222', width: 1.2 } },
      axisTick: { show: true, length: 5, customValues: countTicks, lineStyle: { color: '#222222' } },
      axisLabel: { customValues: countTicks, fontSize: 14, color: '#000000', margin: 12 },
      splitLine: { show: true, lineStyle: { color: '#e3e3e3', width: 1 } },
      name: 'Count', nameLocation: 'middle', nameGap: 43,
      nameTextStyle: { fontSize: 14, color: '#000000' }
    }
  ],
  series: series
});
</script>
</body>
</html>
